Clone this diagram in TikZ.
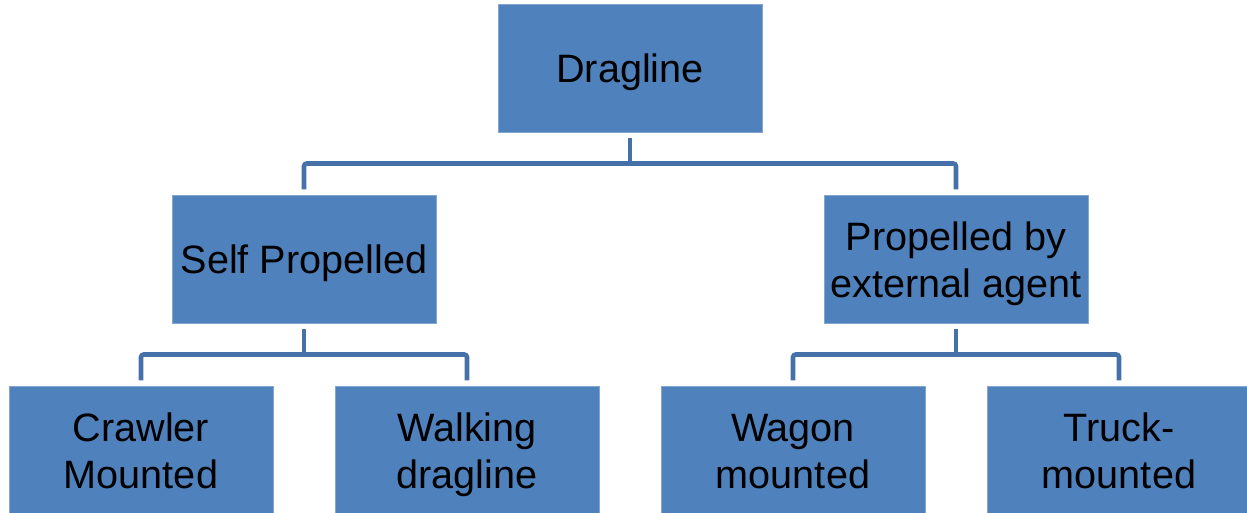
\documentclass[tikz,border=0pt]{standalone}
\usepackage{fontspec}
\setmainfont{Liberation Sans}
\usetikzlibrary{calc}
\definecolor{boxblue}{HTML}{4F81BD}
\definecolor{lineblue}{HTML}{4671A8}
\newcommand\boxstrut{\rule[-0.2em]{0pt}{1.16em}}
\tikzset{
  box/.style={fill=boxblue, draw=boxblue!70!white, line width=0.6pt, minimum width=198pt, minimum height=96pt,
    inner sep=0pt, align=center, font=\fontsize{29.7pt}{35pt}\selectfont, text=black, anchor=center},
  conn/.style={draw=lineblue, line width=3.4pt, rounded corners=2pt}
}
\begin{document}
\begin{tikzpicture}[x=0.75pt,y=-0.75pt]
\useasboundingbox (0,0) rectangle (1247,512);
\node[box] (root) at (630,68) {\boxstrut Dragline};
\node[box] (self) at (304,259) {\boxstrut Self Propelled};
\node[box] (ext) at (956,259) {\boxstrut Propelled by\\\boxstrut external agent};
\node[box] (crawl) at (141,450) {\boxstrut Crawler\\\boxstrut Mounted};
\node[box] (walk) at (467,450) {\boxstrut Walking\\\boxstrut dragline};
\node[box] (wagon) at (793,450) {\boxstrut Wagon\\\boxstrut mounted};
\node[box] (truck) at (1119,450) {\boxstrut Truck-\\\boxstrut mounted};
\coordinate (m1) at ($(root.south)!0.5!(root.south|-self.north)$);
\coordinate (m2) at ($(self.south)!0.5!(self.south|-crawl.north)$);
\draw[conn] ([yshift=-4.5pt]root.south) -- (root.south|-m1);
\draw[conn] ([yshift=4pt]self.north) -- (self.north|-m1) -- (ext.north|-m1) -- ([yshift=4pt]ext.north);
\draw[conn] ([yshift=-4.5pt]self.south) -- (self.south|-m2);
\draw[conn] ([yshift=4pt]crawl.north) -- (crawl.north|-m2) -- (walk.north|-m2) -- ([yshift=4pt]walk.north);
\draw[conn] ([yshift=-4.5pt]ext.south) -- (ext.south|-m2);
\draw[conn] ([yshift=4pt]wagon.north) -- (wagon.north|-m2) -- (truck.north|-m2) -- ([yshift=4pt]truck.north);
\end{tikzpicture}
\end{document}
